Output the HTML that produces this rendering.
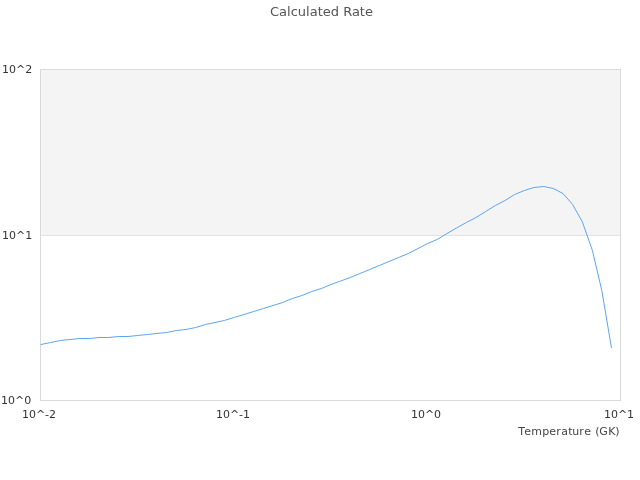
<!DOCTYPE html>
<html>
<head>
<meta charset="utf-8">
<title>Calculated Rate</title>
<style>
html,body{margin:0;padding:0;background:#fff;}
body{width:640px;height:480px;overflow:hidden;}
svg{display:block;}
text{font-family:"DejaVu Sans","Liberation Sans",sans-serif;fill:#333;}
.t{font-size:11px;}
.title{font-size:13px;fill:#555;}
.al{fill:#454545;}
</style>
</head>
<body>
<svg xmlns="http://www.w3.org/2000/svg" width="640" height="480" viewBox="0 0 640 480">
  <rect x="0" y="0" width="640" height="480" fill="#ffffff"/>
  <!-- alternating band -->
  <rect x="40" y="69" width="581" height="167" fill="#f4f4f4" shape-rendering="crispEdges"/>
  <!-- grid line -->
  <rect x="40" y="235" width="581" height="1" fill="#e2e2e2" shape-rendering="crispEdges"/>
  <!-- plot border -->
  <rect x="40.5" y="69.5" width="580" height="331" fill="none" stroke="#d9d9d9" stroke-width="1" shape-rendering="crispEdges"/>
  <!-- series -->
  <polyline fill="none" stroke="#5ca6f1" stroke-width="1" stroke-linejoin="round" stroke-linecap="round"
   points="41.00,344.50 50.67,342.50 60.33,340.50 70.00,339.50 79.67,338.50 89.33,338.50 99.00,337.50 108.67,337.50 118.33,336.50 128.00,336.50 137.67,335.50 147.33,334.50 157.00,333.50 166.67,332.50 176.33,330.50 186.00,329.50 195.67,327.50 205.33,324.50 215.00,322.50 224.67,320.40 234.33,317.40 244.00,314.50 253.67,311.50 263.33,308.50 273.00,305.50 282.67,302.50 292.33,298.50 302.00,295.50 311.67,291.50 321.33,288.50 331.00,284.50 340.67,281.00 350.33,277.50 360.00,273.50 369.67,269.50 379.33,265.50 389.00,261.50 398.67,257.50 408.33,253.50 418.00,248.50 427.67,243.50 437.33,239.40 447.00,233.50 456.67,227.90 466.33,222.50 476.00,217.50 485.67,211.50 495.33,205.50 505.00,200.50 514.67,194.50 524.33,190.50 534.00,187.50 543.67,186.50 553.33,188.50 563.00,193.50 572.55,204.40 582.45,222.10 592.35,250.30 601.85,290.65 611.45,347.75"/>
  <!-- title -->
  <text class="title" x="321.5" y="16" text-anchor="middle">Calculated Rate</text>
  <!-- y labels -->
  <text class="t" x="2" y="73">10^2</text>
  <text class="t" x="2" y="239">10^1</text>
  <text class="t" x="1" y="404">10^0</text>
  <!-- x labels -->
  <text class="t" x="39" y="418" text-anchor="middle">10^-2</text>
  <text class="t" x="233" y="418" text-anchor="middle">10^-1</text>
  <text class="t" x="426" y="418" text-anchor="middle">10^0</text>
  <text class="t" x="619" y="418" text-anchor="middle">10^1</text>
  <text class="t al" x="518.2 524.2 531.2 542.2 549.2 556.2 561.2 568.2 572.2 579.2 584.2 591.2 595.2 599.2 608.2 615.2" y="435">Temperature (GK)</text>
</svg>
</body>
</html>
